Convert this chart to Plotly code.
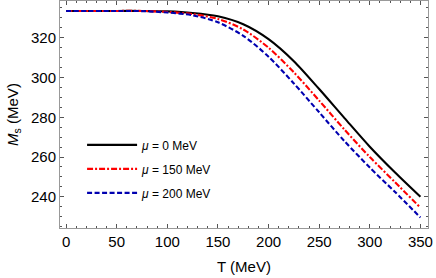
import plotly.graph_objects as go

T = [0, 25, 50, 75, 100, 125, 150, 175, 200, 225, 250, 275, 300, 325, 350]
M_mu0 = [333.5, 333.5, 333.5, 333.5, 333.3, 332.5, 330.8, 326.8, 319.3, 308.2, 294.2, 279.6, 265.2, 252.2, 240.0]
M_mu150 = [333.5, 333.5, 333.5, 333.5, 333.0, 331.9, 329.5, 324.2, 315.0, 302.6, 288.4, 273.8, 260.0, 247.3, 234.5]
M_mu200 = [333.5, 333.5, 333.5, 333.4, 332.7, 331.3, 327.8, 321.0, 310.5, 297.0, 282.5, 268.0, 254.7, 242.4, 229.6]
labels = ["<i>μ</i> = 0 MeV", "<i>μ</i> = 150 MeV", "<i>μ</i> = 200 MeV"]

FONT = "Arial, Liberation Sans, sans-serif"

fig = go.Figure()
styles = [
    dict(color="black", width=2.1, dash="solid"),
    dict(color="#ff0000", width=2.1, dash="6px,2px,2px,2px"),
    dict(color="#0000b0", width=2.1, dash="5px,2.5px"),
]
for i, (ys, lab, st) in enumerate(zip([M_mu0, M_mu150, M_mu200], labels, styles)):
    fig.add_trace(go.Scatter(x=T, y=ys, mode="lines", name=lab,
                             line=dict(shape="spline", smoothing=0.8, **st),
                             legendgroup=f"g{i}"))

axis_common = dict(
    showline=True, linecolor="#999999", linewidth=1, mirror="allticks",
    ticks="inside", ticklen=4, tickcolor="#555555", tickwidth=1,
    showgrid=False, zeroline=False,
    tickfont=dict(family=FONT, size=15, color="black"),
)

fig.update_xaxes(range=[-6, 357.5], dtick=50, tick0=0,
                 minor=dict(dtick=10, ticklen=2, ticks="inside", tickcolor="#555555", showgrid=False),
                 title=dict(text="T (MeV)", font=dict(family=FONT, size=15, color="black"), standoff=12),
                 **axis_common)
fig.update_yaxes(range=[224.3, 338.5], dtick=20, tick0=0,
                 minor=dict(dtick=5, ticklen=2, ticks="inside", tickcolor="#555555", showgrid=False),
                 title=dict(text="<i>M</i><sub>s</sub> (MeV)", font=dict(family=FONT, size=15, color="black"), standoff=8),
                 **axis_common)

fig.update_layout(
    width=436, height=278,
    margin=dict(l=60, r=8, t=1, b=50),
    plot_bgcolor="white", paper_bgcolor="white",
    font=dict(family=FONT, color="black"),
    showlegend=True,
    legend=dict(x=0.06, y=0.43, xanchor="left", yanchor="top",
                bgcolor="rgba(0,0,0,0)", borderwidth=0,
                font=dict(family=FONT, size=12, color="black"),
                traceorder="grouped", tracegroupgap=5, itemwidth=50),
)

fig.write_html("out.html", config={"displayModeBar": False},
               post_script="document.body.style.margin='0';")
